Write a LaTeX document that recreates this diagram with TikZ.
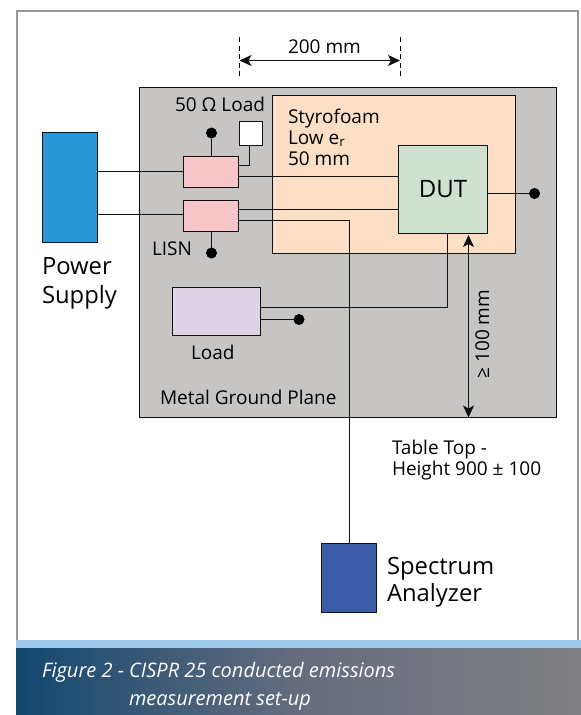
\documentclass[tikz,border=0pt]{standalone}
\usepackage{fontspec}
\setmainfont{Open Sans}
\usetikzlibrary{arrows.meta}
\definecolor{framegray}{HTML}{989898}
\definecolor{plane}{HTML}{C6C5C3}
\definecolor{foam}{HTML}{FDDFC6}
\definecolor{dutgreen}{HTML}{D0E2CF}
\definecolor{lisnpink}{HTML}{F6C6C8}
\definecolor{psublue}{HTML}{2A96D6}
\definecolor{loadlilac}{HTML}{DFD3E6}
\definecolor{sablue}{HTML}{3D5DA9}
\definecolor{inkblack}{HTML}{111111}
\definecolor{bandblue}{HTML}{A0C8E8}
\definecolor{capleft}{HTML}{12486F}
\definecolor{capmid}{HTML}{666C7E}
\definecolor{capright}{HTML}{808082}
\tikzset{
  box/.style={draw=inkblack,line width=1.5pt,inner sep=0pt,outer sep=0pt},
  wire/.style={draw=inkblack,line width=1.5pt},
  dotnode/.style={circle,fill=black,minimum size=11pt,inner sep=0pt,outer sep=0pt},
  lab/.style={inner sep=0pt,outer sep=0pt,anchor=base west,text=black,font=\fontsize{19}{22}\selectfont},
  biglab/.style={lab,font=\fontsize{23.8}{28}\selectfont},
  captext/.style={inner sep=0pt,outer sep=0pt,anchor=base west,text=white,font=\fontsize{20}{24}\selectfont\itshape},
  dimline/.style={wire,{Stealth[length=12pt,width=11pt,inset=3pt]}-{Stealth[length=12pt,width=11pt,inset=3pt]}}
}
\begin{document}
\begin{tikzpicture}[x=1pt,y=-1pt]
\useasboundingbox (0,0) rectangle (581,715);
\fill[white] (0,0) rectangle (581,715);
% frame and caption
\draw[framegray,line width=2pt] (17,641) -- (17,11) -- (577.5,11) -- (577.5,641);
\shade[left color=capleft,right color=capright,middle color=capmid] (16,647) rectangle (581,715);
\fill[bandblue] (16,640) rectangle (581,648);
\node[captext] (c1) at (42,677) {Figure 2 - CISPR 25 conducted emissions};
\node[captext] (c2) at (129,705) {measurement set-up};
% boxes
\node[box,fill=plane,minimum width=417pt,minimum height=330pt] (plane) at (348,252.5) {};
\node[box,fill=foam,minimum width=243pt,minimum height=158pt] (foam) at (394,174.5) {};
\node[box,fill=dutgreen,minimum width=89pt,minimum height=88pt,font=\fontsize{24}{28}\selectfont] (dut) at (443,189.5) {DUT};
\node[box,fill=psublue,minimum width=55pt,minimum height=110pt] (psu) at (70,187.5) {};
\node[box,fill=lisnpink,minimum width=55pt,minimum height=31pt] (lisna) at (211,172) {};
\node[box,fill=lisnpink,minimum width=55pt,minimum height=31pt] (lisnb) at (211,216) {};
\node[box,fill=white,minimum width=23pt,minimum height=24pt] (term) at (251,133.5) {};
\node[box,fill=loadlilac,minimum width=88pt,minimum height=48pt] (load) at (216.5,311.5) {};
\node[box,fill=sablue,minimum width=55pt,minimum height=69pt] (sa) at (349,578) {};
% dots
\node[dotnode] (da) at (211.5,133) {};
\node[dotnode] (db) at (211.5,253) {};
\node[dotnode] (dc) at (534.5,193.5) {};
\node[dotnode] (dd) at (299,319.5) {};
% helper levels
\coordinate (ya) at (0,171.5);
\coordinate (yb) at (0,214.5);
\coordinate (yc) at (0,176.5);
\coordinate (yd) at (0,209.5);
\coordinate (ye) at (0,220.5);
\coordinate (yf) at (0,193.5);
\coordinate (yg) at (0,307.5);
\coordinate (yh) at (0,319.5);
\coordinate (yi) at (0,165.5);
\coordinate (xa) at (349.5,0);
\coordinate (xb) at (447.5,0);
\coordinate (xc) at (249.5,0);
\coordinate (xd) at (468.5,0);
% wires
\draw[wire] (psu.east |- ya) -- (lisna.west |- ya);
\draw[wire] (psu.east |- yb) -- (lisnb.west |- yb);
\draw[wire] (lisna.east |- yc) -- (dut.west |- yc);
\draw[wire] (lisnb.east |- yd) -- (dut.west |- yd);
\draw[wire] (lisnb.east |- ye) -- (xa |- ye) -- (xa |- sa.north);
\draw[wire] (da) -- (da |- lisna.north);
\draw[wire] (db) -- (db |- lisnb.south);
\draw[wire] (term.south -| xc) -- (xc |- yi) -- (lisna.east |- yi);
\draw[wire] (dut.east |- yf) -- (dc);
\draw[wire] (xb |- dut.south) -- (xb |- yg) -- (load.east |- yg);
\draw[wire] (load.east |- yh) -- (dd);
% dimensions
\coordinate (ga) at (239.5,37);
\coordinate (gb) at (239.5,77);
\coordinate (gc) at (400.5,37);
\coordinate (gd) at (400.5,77);
\coordinate (ha) at (239.5,60.5);
\coordinate (hb) at (400,60.5);
\draw[draw=black,line width=1pt,dash pattern=on 5pt off 3.5pt] (ga) -- (gb);
\draw[draw=black,line width=1pt,dash pattern=on 5pt off 3.5pt] (gc) -- (gd);
\draw[dimline] (ha) -- (hb);
\draw[dimline] (xd |- dut.south) ++(0,1.5) -- (xd |- plane.south);
% labels
\node[lab] (t1) at (288,53) {200 mm};
\node[lab] (t2) at (175,111) {50 Ω Load};
\node[lab] (t3) at (152,255) {LISN};
\node[lab] (t4) at (288,123) {Styrofoam};
\node[lab] (t5) at (288,144) {Low e\textsubscript{r}};
\node[lab] (t6) at (288,165) {50 mm};
\node[biglab] (t7) at (42,274) {Power};
\node[biglab] (t8) at (42,303) {Supply};
\node[lab] (t9) at (191,359) {Load};
\node[lab] (t10) at (160,404) {Metal Ground Plane};
\node[lab,anchor=base,rotate=90] (t11) at (489,334) {≥ 100 mm};
\node[lab] (t12) at (392,454) {Table Top -};
\node[lab] (t13) at (392,475) {Height 900 ± 100};
\node[biglab] (t14) at (387,574) {Spectrum};
\node[biglab] (t15) at (387,601) {Analyzer};
\end{tikzpicture}
\end{document}
